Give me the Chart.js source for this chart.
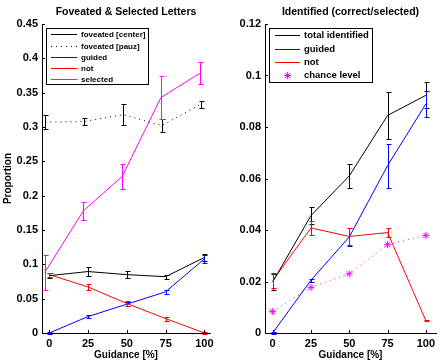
<!DOCTYPE html>
<html>
<head>
<meta charset="utf-8">
<script src="https://cdn.jsdelivr.net/npm/chart.js@4/dist/chart.umd.min.js"></script>
<style>
body { margin: 0; background: #fff; width: 441px; height: 362px; overflow: hidden; position: relative; }
canvas { position: absolute; top: 0; }
#fov-chart { left: 0; }
#ident-chart { left: 220px; }
</style>
</head>
<body>
<canvas id="fov-chart" width="220" height="362"></canvas>
<canvas id="ident-chart" width="221" height="362"></canvas>
<script>
// guidance levels on the x axis
const guidance = [0, 25, 50, 75, 100];
const xTicks = [0, 25, 50, 75, 100];

// left panel: foveated & selected letters (proportion)
const fovTicks = [0, 0.05, 0.1, 0.15, 0.2, 0.25, 0.3, 0.35, 0.4, 0.45];
const fovCenter = [0.0835, 0.0895, 0.085, 0.082, 0.110];
const fovCenterErr = [0.004, 0.006, 0.005, 0.003, 0.005];
const fovPauz = [0.307, 0.308, 0.318, 0.302, 0.333];
const fovPauzErr = [0.010, 0.005, 0.015, 0.010, 0.005];
const fovGuided = [0, 0.024, 0.042, 0.060, 0.108];
const fovGuidedErr = [0.001, 0.002, 0.003, 0.003, 0.006];
const fovNot = [0.085, 0.067, 0.043, 0.021, 0];
const fovNotErr = [0.003, 0.004, 0.003, 0.003, 0.001];
const fovSelected = [0.088, 0.178, 0.228, 0.343, 0.378];
const fovSelectedErr = [0.026, 0.013, 0.018, 0.031, 0.016];

// right panel: identified (correct/selected)
const identTicks = [0, 0.02, 0.04, 0.06, 0.08, 0.1, 0.12];
const identTotal = [0.0198, 0.0456, 0.061, 0.0845, 0.0923];
const identTotalErr = [0.003, 0.0033, 0.0048, 0.009, 0.005];
const identGuided = [0, 0.0205, 0.0373, 0.065, 0.089];
const identGuidedErr = [0.0005, 0.0005, 0.0034, 0.0085, 0.005];
const identNot = [0.0203, 0.0408, 0.0375, 0.039, 0.0048];
const identNotErr = [0.003, 0.0027, 0.0032, 0.0017, 0.0003];
const chanceLevel = [0.0083, 0.0177, 0.023, 0.0343, 0.0379];

const FONT = '"Liberation Sans", Arial, sans-serif';

function points(values, shift) {
    return guidance.map((g, i) => ({ x: g + (shift || 0), y: values[i] }));
}

function lineSet(label, values, errors, color, extra) {
    return Object.assign({
        label: label,
        data: points(values, extra && extra.shift),
        errors: errors,
        borderColor: color,
        backgroundColor: color,
        borderWidth: 1,
        pointRadius: 0,
        tension: 0
    }, extra || {});
}

// vertical error bars with small caps, drawn through the chart scales
const errorBarPlugin = {
    id: 'errorBars',
    afterDatasetsDraw(chart) {
        const ctx = chart.ctx;
        const xs = chart.scales.x, ys = chart.scales.y;
        chart.data.datasets.forEach(ds => {
            if (!ds.errors) return;
            ctx.save();
            ctx.strokeStyle = ds.borderColor;
            ctx.lineWidth = 1;
            ctx.setLineDash([]);
            ds.data.forEach((p, i) => {
                const e = ds.errors[i];
                const px = Math.round(xs.getPixelForValue(p.x)) + 0.5;
                const top = Math.round(ys.getPixelForValue(p.y + e)) + 0.5;
                const bot = Math.round(ys.getPixelForValue(p.y - e)) + 0.5;
                ctx.beginPath();
                ctx.moveTo(px, top); ctx.lineTo(px, bot);
                ctx.moveTo(px - 2, top); ctx.lineTo(px + 3, top);
                ctx.moveTo(px - 2, bot); ctx.lineTo(px + 3, bot);
                ctx.stroke();
            });
            ctx.restore();
        });
    }
};

// title over the plot area, inward tick marks and the boxed legend
const decorPlugin = {
    id: 'decor',
    afterDraw(chart, args, opts) {
        const ctx = chart.ctx;
        const area = chart.chartArea;
        const xs = chart.scales.x, ys = chart.scales.y;
        ctx.save();
        ctx.fillStyle = '#000';
        ctx.font = 'bold 10.5px ' + FONT;
        ctx.textAlign = 'center';
        ctx.textBaseline = 'middle';
        ctx.fillText(opts.title, (area.left + area.right) / 2, 12);

        ctx.strokeStyle = '#000';
        ctx.lineWidth = 1;
        ctx.beginPath();
        xs.ticks.forEach(t => {
            const px = Math.round(xs.getPixelForValue(t.value)) + 0.5;
            ctx.moveTo(px, area.bottom); ctx.lineTo(px, area.bottom - 3);
        });
        ys.ticks.forEach(t => {
            const py = Math.round(ys.getPixelForValue(t.value)) + 0.5;
            ctx.moveTo(area.left, py); ctx.lineTo(area.left + 3, py);
        });
        ctx.stroke();

        const lg = opts.legend;
        ctx.fillStyle = '#fff';
        ctx.fillRect(lg.x, lg.y, lg.w, lg.h);
        ctx.strokeStyle = '#000';
        ctx.strokeRect(lg.x + 0.5, lg.y + 0.5, lg.w, lg.h);
        ctx.font = 'bold ' + lg.size + 'px ' + FONT;
        ctx.textAlign = 'left';
        chart.data.datasets.forEach((ds, i) => {
            const y = Math.round(lg.rowY + i * lg.step) + 0.5;
            ctx.strokeStyle = ds.borderColor;
            if (ds.pointStyle === 'star') {
                const cx = (lg.x0 + lg.x1) / 2, r = 3.5;
                ctx.beginPath();
                ctx.moveTo(cx - r, y); ctx.lineTo(cx + r, y);
                ctx.moveTo(cx, y - r); ctx.lineTo(cx, y + r);
                ctx.moveTo(cx - 2.5, y - 2.5); ctx.lineTo(cx + 2.5, y + 2.5);
                ctx.moveTo(cx - 2.5, y + 2.5); ctx.lineTo(cx + 2.5, y - 2.5);
                ctx.stroke();
            } else {
                ctx.setLineDash(ds.borderDash || []);
                ctx.beginPath();
                ctx.moveTo(lg.x0, y); ctx.lineTo(lg.x1, y);
                ctx.stroke();
                ctx.setLineDash([]);
            }
            ctx.fillStyle = '#000';
            ctx.fillText(ds.label, lg.textX, y);
        });
        ctx.restore();
    }
};

function axisOptions(xMin, xMax, yMax, yTicks, yWidth, showYTitle) {
    const tickFont = { family: FONT, size: 11, weight: 'bold' };
    const titleFont = { family: FONT, size: 10, weight: 'bold', lineHeight: 1 };
    return {
        x: {
            type: 'linear', min: xMin, max: xMax,
            afterBuildTicks: s => { s.ticks = xTicks.map(v => ({ value: v })); },
            grid: { display: false, drawTicks: false },
            border: { display: true, color: '#000', width: 1 },
            ticks: { color: '#000', font: tickFont, padding: 4, maxRotation: 0, autoSkip: false },
            title: { display: true, text: 'Guidance [%]', color: '#000', font: titleFont, padding: { top: 0, bottom: 2 } },
            afterFit: s => { s.height = 29; }
        },
        y: {
            type: 'linear', min: 0, max: yMax,
            afterBuildTicks: s => { s.ticks = yTicks.map(v => ({ value: v })); },
            grid: { display: false, drawTicks: false },
            border: { display: true, color: '#000', width: 1 },
            ticks: { color: '#000', font: tickFont, padding: 4, autoSkip: false,
                     callback: v => String(parseFloat(v.toFixed(3))) },
            title: { display: showYTitle, text: 'Proportion', color: '#000', font: titleFont, padding: { top: 3, bottom: 0 } },
            afterFit: s => { s.width = yWidth; }
        }
    };
}

function renderFoveatedChart() {
    let ctx = document.getElementById('fov-chart');
    new Chart(ctx, {
        type: 'line',
        data: {
            datasets: [
                lineSet('foveated [center]', fovCenter, fovCenterErr, '#000000'),
                lineSet('foveated [pauz]', fovPauz, fovPauzErr, '#000000', { shift: -2.5, borderDash: [1, 4] }),
                lineSet('guided', fovGuided, fovGuidedErr, '#0000ff'),
                lineSet('not', fovNot, fovNotErr, '#ff0000'),
                lineSet('selected', fovSelected, fovSelectedErr, '#ff00ff', { shift: -3 })
            ]
        },
        options: {
            responsive: false, animation: false, devicePixelRatio: 1,
            layout: { padding: { top: 24, right: 10, left: 0, bottom: 0 } },
            scales: axisOptions(-4.7, 103.6, 0.45, fovTicks, 42, true),
            plugins: {
                legend: { display: false }, tooltip: { enabled: false },
                decor: {
                    title: 'Foveated & Selected Letters',
                    legend: { x: 46, y: 28, w: 102, h: 56, rowY: 34.3, step: 11.2, x0: 51, x1: 77, textX: 81, size: 8 }
                }
            }
        },
        plugins: [errorBarPlugin, decorPlugin]
    });
}

function renderIdentifiedChart() {
    let ctx = document.getElementById('ident-chart');
    new Chart(ctx, {
        type: 'line',
        data: {
            datasets: [
                lineSet('total identified', identTotal, identTotalErr, '#000000'),
                lineSet('guided', identGuided, identGuidedErr, '#0000ff'),
                lineSet('not', identNot, identNotErr, '#ff0000'),
                {
                    label: 'chance level',
                    data: points(chanceLevel),
                    borderColor: '#ff00ff',
                    backgroundColor: '#ff00ff',
                    borderWidth: 1,
                    borderDash: [1, 4],
                    pointStyle: 'star',
                    pointRadius: 3.5,
                    pointBorderWidth: 1,
                    tension: 0
                }
            ]
        },
        options: {
            responsive: false, animation: false, devicePixelRatio: 1,
            layout: { padding: { top: 24, right: 3, left: 0, bottom: 0 } },
            scales: axisOptions(-5, 106.6, 0.12, identTicks, 45, false),
            plugins: {
                legend: { display: false }, tooltip: { enabled: false },
                decor: {
                    title: 'Identified (correct/selected)',
                    legend: { x: 49, y: 28, w: 103, h: 54, rowY: 35.3, step: 13.2, x0: 55, x1: 80, textX: 84, size: 9.5 }
                }
            }
        },
        plugins: [errorBarPlugin, decorPlugin]
    });
}

function app() {
    renderFoveatedChart();
    renderIdentifiedChart();
}

app();
</script>
</body>
</html>
